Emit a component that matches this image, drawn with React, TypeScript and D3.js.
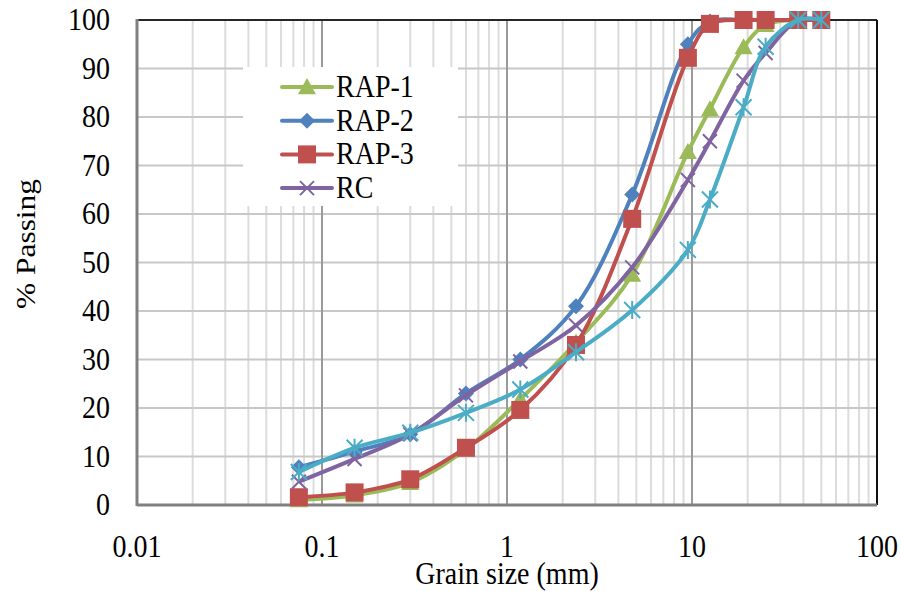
import React from "react";
import * as d3 from "d3";

const sizes = [0.075, 0.15, 0.3, 0.6, 1.18, 2.36, 4.75, 9.5, 12.5, 19, 25, 37.5, 50];
const rap1 = [1, 2, 4.6, 11.5, 21.8, 33.5, 47.5, 72.8, 81.6, 94.4, 99, 100, 100];
const rap2 = [7.8, 11, 14.6, 23, 30, 41, 64, 95, 99.7, 100, 100, 100, 100];
const rap3 = [1.6, 2.6, 5.3, 11.8, 19.6, 33, 59, 92.2, 99.2, 100, 100, 100, 100];
const rc = [4.8, 9.5, 14.6, 22.6, 29.6, 37, 49, 67, 75, 87.5, 93.2, 100, 100];
const rc2 = [6.8, 11.8, 14.9, 19, 23.8, 31.5, 40.2, 52.6, 63, 82, 94.5, 100, 100];
const xTicks = [0.01, 0.1, 1, 10, 100];
const xTickLabels = ["0.01", "0.1", "1", "10", "100"];
const yTicks = [0, 10, 20, 30, 40, 50, 60, 70, 80, 90, 100];
const legendNames = ["RAP-1", "RAP-2", "RAP-3", "RC"];

const W = 901, H = 591;
const L = 137, R = 877, T = 20, B = 505;
const FONT = "Liberation Serif";

type Sym = "tri" | "dia" | "sq" | "x" | "star";
const seriesList: { name: string; vals: number[]; color: string; sym: Sym }[] = [
  { name: legendNames[0], vals: rap1, color: "#9BBB59", sym: "tri" },
  { name: legendNames[1], vals: rap2, color: "#4F81BD", sym: "dia" },
  { name: legendNames[2], vals: rap3, color: "#C0504D", sym: "sq" },
  { name: legendNames[3], vals: rc, color: "#8064A2", sym: "x" },
  { name: "", vals: rc2, color: "#4BACC6", sym: "star" },
];

function Marker({ x, y, sym, color }: { x: number; y: number; sym: Sym; color: string }) {
  if (sym === "tri") {
    const s = 9;
    return <path d={`M${x},${y - s}L${x + s},${y + s * 0.8}L${x - s},${y + s * 0.8}Z`} fill={color} />;
  }
  if (sym === "dia") {
    const s = 8;
    return <path d={`M${x},${y - s}L${x + s},${y}L${x},${y + s}L${x - s},${y}Z`} fill={color} />;
  }
  if (sym === "sq") {
    const s = 9;
    return <rect x={x - s} y={y - s} width={2 * s} height={2 * s} fill={color} />;
  }
  if (sym === "x") {
    const s = 7;
    return (
      <path d={`M${x - s},${y - s}L${x + s},${y + s}M${x - s},${y + s}L${x + s},${y - s}`} stroke={color} strokeWidth={2} />
    );
  }
  const s = 8;
  return (
    <path
      d={`M${x - s},${y - s}L${x + s},${y + s}M${x - s},${y + s}L${x + s},${y - s}M${x},${y - s - 1}L${x},${y + s + 1}`}
      stroke={color}
      strokeWidth={2}
    />
  );
}

const textStyle: React.CSSProperties = { fontFamily: "'Liberation Serif', 'DejaVu Serif', serif" };

export default function App() {
  const x = d3.scaleLog().domain([0.01, 100]).range([L, R]);
  const y = d3.scaleLinear().domain([0, 100]).range([B, T]);

  const minor: number[] = [];
  for (let e = -2; e < 2; e++) {
    for (let k = 2; k <= 9; k++) minor.push(k * Math.pow(10, e));
  }

  const line = d3
    .line<[number, number]>()
    .x((d) => x(d[0]))
    .y((d) => y(d[1]))
    .curve(d3.curveCatmullRom.alpha(0.5));

  const ts = (tx: number, ty: number, anchor: string, size = 28) => ({
    transform: `translate(${tx},${ty}) scale(1,1.12)`,
    fontSize: size,
    textAnchor: anchor as any,
    fill: "#000",
    style: textStyle,
  });

  return (
    <svg width={W} height={H} style={{ position: "absolute", left: 0, top: 0, background: "#fff" }} fontFamily={FONT}>
      <rect x={0} y={0} width={W} height={H} fill="#fff" />
      {minor.map((v) => (
        <line key={"m" + v} x1={x(v)} x2={x(v)} y1={T} y2={B} stroke="#dcdcdc" strokeWidth={2} />
      ))}
      {yTicks.slice(1, -1).map((v) => (
        <line key={"h" + v} x1={L} x2={R} y1={y(v)} y2={y(v)} stroke="#c8c8c8" strokeWidth={2} />
      ))}
      {xTicks.slice(1, -1).map((v) => (
        <line key={"M" + v} x1={x(v)} x2={x(v)} y1={T} y2={B} stroke="#9a9a9a" strokeWidth={2} />
      ))}
      <rect x={243} y={67} width={215} height={139} fill="#fff" />
      <line x1={L} x2={R} y1={T} y2={T} stroke="#262626" strokeWidth={2} />
      <line x1={R} x2={R} y1={T} y2={B} stroke="#111" strokeWidth={2} />
      <line x1={L} x2={L} y1={T - 1} y2={B + 1} stroke="#808080" strokeWidth={3} />
      <line x1={L} x2={R} y1={B} y2={B} stroke="#808080" strokeWidth={3} />

      {seriesList.map((s, i) => {
        const pts: [number, number][] = sizes.map((d, j) => [d, s.vals[j]]);
        return (
          <g key={"s" + i}>
            <path d={line(pts) || ""} fill="none" stroke={s.color} strokeWidth={4} strokeLinejoin="round" />
            {pts.map((p, j) => (
              <Marker key={j} x={x(p[0])} y={y(p[1])} sym={s.sym} color={s.color} />
            ))}
          </g>
        );
      })}

      {seriesList.slice(0, 4).map((s, i) => {
        const ly = 87 + i * 33.7;
        return (
          <g key={"l" + i}>
            <line x1={282} x2={332} y1={ly} y2={ly} stroke={s.color} strokeWidth={4} strokeLinecap="round" />
            <Marker x={307} y={ly} sym={s.sym} color={s.color} />
            <text {...ts(336, ly + 10, "start")}>{s.name}</text>
          </g>
        );
      })}

      {yTicks.map((v) => (
        <text key={"yt" + v} {...ts(110, y(v) + 10, "end")}>
          {v}
        </text>
      ))}
      {xTicks.map((v, i) => (
        <text key={"xt" + v} {...ts(x(v), 557, "middle")}>
          {xTickLabels[i]}
        </text>
      ))}
      <text {...ts(507, 584, "middle")}>Grain size (mm)</text>
      <text
        transform={`translate(35,244) rotate(-90) scale(1.12,1)`}
        fontSize={28}
        textAnchor="middle"
        fill="#000"
        style={textStyle}
      >
        % Passing
      </text>
    </svg>
  );
}
